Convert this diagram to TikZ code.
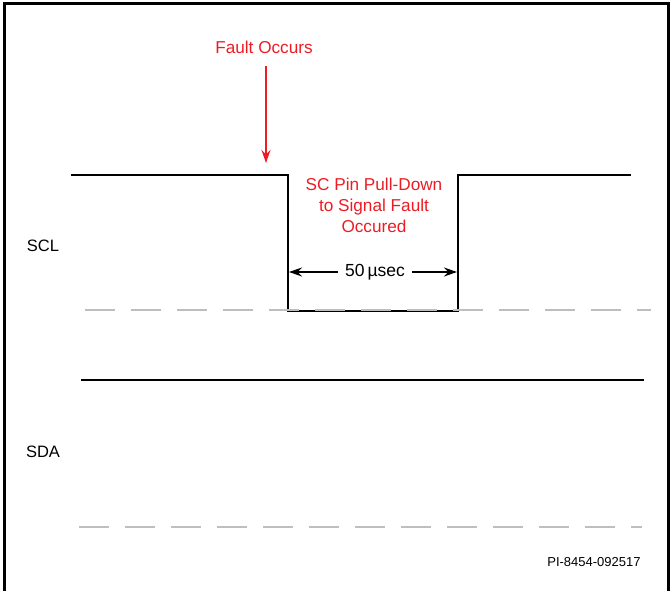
\documentclass[tikz,border=0pt]{standalone}
\usepackage{fontspec}
\setmainfont{Liberation Sans}
\usetikzlibrary{arrows.meta}
\definecolor{faultred}{RGB}{237,28,36}
\definecolor{dashgray}{RGB}{190,190,190}
\tikzset{
  frameline/.style={line width=2.6pt,black},
  wave/.style={line width=2.3pt,black,line cap=rect},
  refdash/.style={line width=2pt,dashgray,dash pattern=on 30pt off 16pt},
  lbl/.style={font=\fontsize{16.5}{19}\selectfont,inner sep=0pt},
  redlbl/.style={font=\fontsize{17.2}{21}\selectfont,text=faultred,inner sep=0pt,align=center},
  redarrow/.style={faultred,line width=1.3pt,-{Stealth[length=13pt,width=9pt]}},
  dimarrow/.style={black,line width=1.3pt,-{Stealth[length=13pt,width=9pt]}}
}
\begin{document}
\begin{tikzpicture}[x=1pt,y=-1pt]
\useasboundingbox (0,0) rectangle (670,590);
% frame
\draw[frameline] (4.5,592) -- (4.5,3.5) -- (668.5,3.5) -- (668.5,592);
% SCL waveform
\coordinate (s0) at (72,175);
\coordinate (s1) at (288,175);
\coordinate (s2) at (288,311);
\coordinate (s3) at (458,311);
\coordinate (s4) at (458,175);
\coordinate (s5) at (630,175);
\draw[wave] (s0) -- (s1) -- (s2) -- (s3) -- (s4) -- (s5);
% dashed reference lines
\coordinate (d1a) at (85,310);
\coordinate (d1b) at (651,310);
\draw[refdash] (d1a) -- (d1b);
\coordinate (d2a) at (79,527);
\coordinate (d2b) at (642,527);
\draw[refdash] (d2a) -- (d2b);
% SDA line
\coordinate (a0) at (82,380);
\coordinate (a1) at (643,380);
\draw[wave] (a0) -- (a1);
% labels
\node[lbl] (scl) at (43,246) {SCL};
\node[lbl] (sda) at (43,452) {SDA};
\node[redlbl] (fault) at (264,47) {Fault Occurs};
\coordinate (faultpt) at (266,163);
\draw[redarrow] (266,66) -- (faultpt);
\node[redlbl] (pull) at (374,205) {SC Pin Pull-Down\\to Signal Fault\\Occured};
\node[font=\fontsize{17.5}{21}\selectfont,inner sep=0pt] (dur) at (375,272) {50\,µsec};
\coordinate (dl) at (289,272);
\coordinate (dr) at (457,272);
\draw[dimarrow] ([xshift=-7pt]dur.west) -- (dl);
\draw[dimarrow] ([xshift=7pt]dur.east) -- (dr);
\node[font=\fontsize{13}{15}\selectfont,inner sep=0pt] (pi) at (594,562) {PI-8454-092517};
\end{tikzpicture}
\end{document}
